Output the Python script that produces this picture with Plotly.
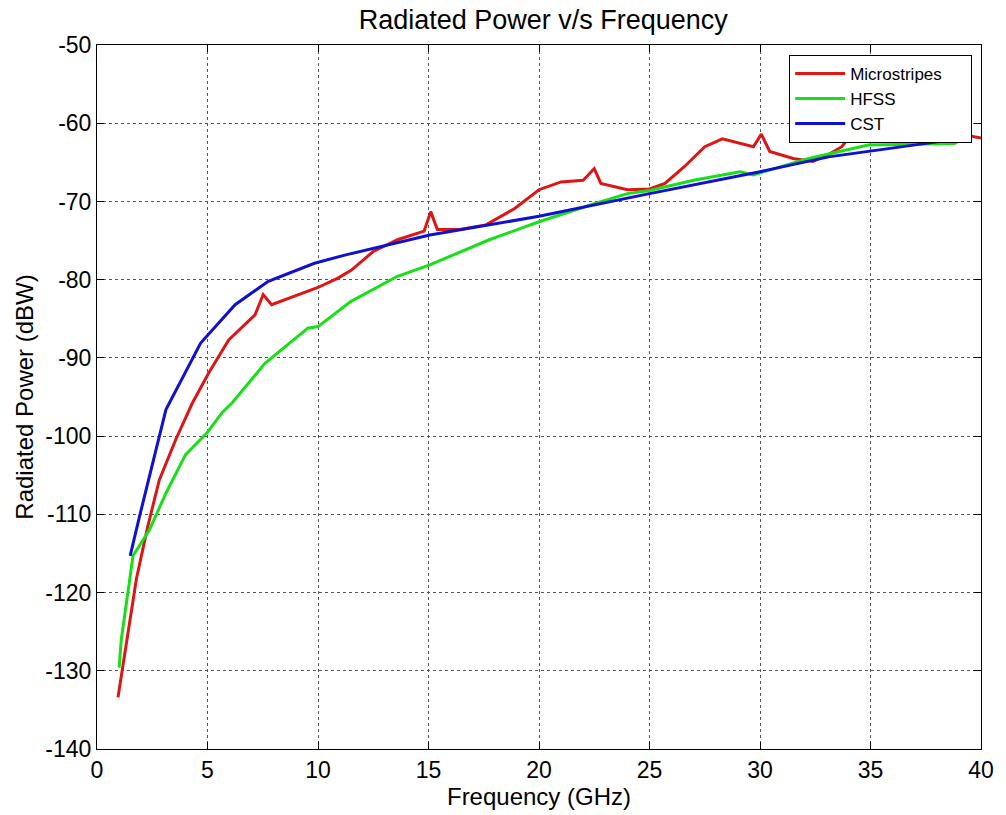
import plotly.graph_objects as go

# Microstripes
micro_x = [0.95, 1.78, 2.3, 2.82, 3.57, 4.31, 5.06, 5.96, 7.15, 7.52, 7.9, 9.0, 10.0, 10.9, 11.5,
           12.5, 13.6, 14.8, 15.1, 15.4, 16.4, 17.6, 18.9, 20.0, 21.0, 22.0, 22.5, 22.8, 24.0,
           25.0, 25.7, 26.6, 27.5, 28.3, 29.7, 30.06, 30.44, 31.5, 32.4, 33.1, 33.7, 34.3,
           35.0, 36.0, 37.0, 38.0, 38.9, 40.0]
micro_y = [-133.4, -118.3, -111.5, -105.6, -100.4, -95.8, -91.9, -87.7, -84.5, -81.9, -83.2, -82.0,
           -81.0, -79.8, -78.8, -76.4, -74.9, -73.8, -71.3, -73.6, -73.6, -73.0, -70.9, -68.5,
           -67.5, -67.3, -65.8, -67.7, -68.5, -68.4, -67.7, -65.5, -63.0, -62.0, -63.0, -61.4,
           -63.6, -64.5, -64.9, -64.0, -63.0, -60.9, -58.5, -57.0, -57.5, -59.5, -61.3, -61.9]

# HFSS
hfss_x = [1.0, 1.1, 1.63, 2.37, 3.12, 4.0, 5.0, 5.66, 6.1, 7.6, 9.54, 10.0, 11.48, 13.57, 15.06,
          17.75, 20.0, 21.78, 22.5, 24.0, 25.0, 27.0, 29.1, 29.7, 30.5, 32.2, 34.9, 38.8, 39.5]
hfss_y = [-129.6, -126.0, -115.3, -112.0, -107.3, -102.4, -99.5, -97.0, -95.8, -90.7, -86.2, -86.0,
          -82.8, -79.6, -78.1, -74.9, -72.6, -70.9, -70.3, -69.0, -68.6, -67.3, -66.2, -66.6,
          -65.9, -64.5, -62.8, -62.6, -61.5]

# CST
cst_x = [1.5, 1.93, 3.12, 4.0, 4.69, 6.25, 7.75, 9.84, 11.3, 15.06, 20.0, 25.0, 30.0, 33.1, 39.0]
cst_y = [-115.3, -110.2, -96.6, -91.9, -88.1, -83.2, -80.2, -77.9, -76.8, -74.3, -71.9, -69.0,
         -66.2, -64.3, -62.0]

x_ticks = [0, 5, 10, 15, 20, 25, 30, 35, 40]
x_ticktext = ["0", "5", "10", "15", "20", "25", "30", "35", "40"]
y_ticks = [-50, -60, -70, -80, -90, -100, -110, -120, -130, -140]
y_ticktext = ["-50", "-60", "-70", "-80", "-90", "-100", "-110", "-120", "-130", "-140"]

FONT = "Liberation Sans, Arial, sans-serif"
PAD = "\u00a0" * 5

fig = go.Figure()
fig.add_trace(go.Scatter(x=micro_x, y=micro_y, mode="lines", name="Microstripes" + PAD,
                         line=dict(color="#dd1515", width=3)))
fig.add_trace(go.Scatter(x=hfss_x, y=hfss_y, mode="lines", name="HFSS",
                         line=dict(color="#18e018", width=3)))
fig.add_trace(go.Scatter(x=cst_x, y=cst_y, mode="lines", name="CST",
                         line=dict(color="#1010d0", width=3)))

axis_common = dict(
    showgrid=True, gridcolor="#555", griddash="dot", gridwidth=1,
    showline=True, linecolor="black", linewidth=1, mirror="ticks",
    ticks="inside", ticklen=7, tickcolor="black",
    tickfont=dict(family=FONT, size=23, color="black"),
    zeroline=False,
)

fig.update_layout(
    width=1006, height=815,
    paper_bgcolor="white", plot_bgcolor="white",
    margin=dict(l=97, r=16, t=45, b=66),
    title=dict(text="Radiated Power v/s Frequency", x=0.54, xanchor="center",
               y=0.976, yanchor="middle",
               font=dict(family=FONT, size=27, color="black")),
    xaxis=dict(range=[0, 40], tickvals=x_ticks, ticktext=x_ticktext,
               title=dict(text="Frequency (GHz)", font=dict(family=FONT, size=24, color="black"),
                          standoff=2),
               **axis_common),
    yaxis=dict(range=[-140, -50], tickvals=y_ticks, ticktext=y_ticktext,
               title=dict(text="Radiated Power (dBW)", font=dict(family=FONT, size=24, color="black"),
                          standoff=4),
               **axis_common),
    legend=dict(x=0.783, y=0.986, xanchor="left", yanchor="top",
                bgcolor="white", bordercolor="black", borderwidth=1,
                font=dict(family=FONT, size=17, color="black"),
                tracegroupgap=0, itemwidth=50),
    showlegend=True,
)

fig.write_html("out.html")
